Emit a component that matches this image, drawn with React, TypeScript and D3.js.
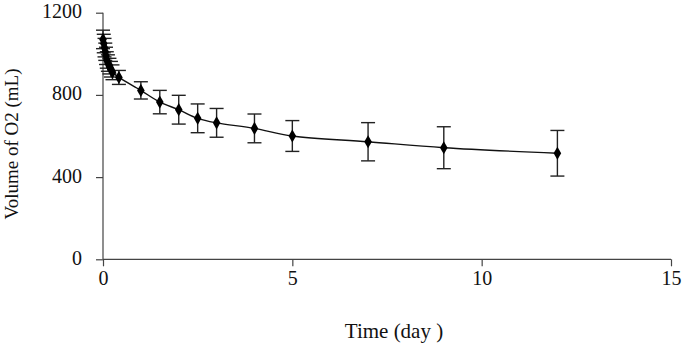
import React, { useRef, useEffect } from 'react';
import * as d3 from 'd3';

// sampling times (day) and measured O2 volume (mL) with std. deviation
const days = [0, 0.02, 0.04, 0.06, 0.08, 0.1, 0.13, 0.17, 0.21, 0.25, 0.42, 1, 1.5, 2, 2.5, 3, 4, 5, 7, 9, 12];
const volumes = [1070, 1050, 1030, 1010, 990, 970, 955, 940, 925, 910, 885, 822, 765, 728, 686, 664, 637, 600, 572, 543, 516];
const errors = [45, 45, 45, 42, 42, 40, 40, 38, 38, 36, 34, 42, 57, 70, 70, 70, 70, 75, 93, 102, 111];

const xTicks = [0, 5, 10, 15];
const yTicks = [0, 400, 800, 1200];

const App = () => {
    const svgRef = useRef<SVGSVGElement>(null);

    useEffect(() => {
        const svg = d3.select(svgRef.current);
        svg.selectAll('*').remove();

        const left = 103, right = 671, top = 12.7, bottom = 259.3;
        const x = d3.scaleLinear().domain([0, 15]).range([left, right]);
        const y = d3.scaleLinear().domain([0, 1200]).range([bottom, top]);
        const font = '"Liberation Serif", "Times New Roman", serif';
        const axisColor = '#444';

        const data = days.map((d, i) => ({ t: d, v: volumes[i], e: errors[i] }));

        // axes
        const xAxis = svg.append('g').attr('transform', `translate(0,${bottom})`)
            .call(d3.axisBottom(x).tickValues(xTicks).tickSize(7).tickPadding(5).tickFormat(d3.format('d')));
        const yAxis = svg.append('g').attr('transform', `translate(${left},0)`)
            .call(d3.axisLeft(y).tickValues(yTicks).tickSize(7).tickPadding(14).tickFormat(d3.format('d')));

        [xAxis, yAxis].forEach(g => {
            g.attr('font-family', font).attr('font-size', 20);
            g.select('.domain').attr('stroke', axisColor).attr('stroke-width', 1.2);
            g.selectAll('.tick line').attr('stroke', axisColor).attr('stroke-width', 1.2);
            g.selectAll('.tick text').attr('fill', '#111').attr('font-family', font).attr('font-size', 20);
        });
        // d3 draws outer ticks on the domain path; drop them to keep a plain line
        xAxis.select('.domain').attr('d', `M${left},0H${right}`);
        yAxis.select('.domain').attr('d', `M0,${bottom}V${top}`);
        yAxis.selectAll('.tick text').attr('dy', '0.25em');

        // error bars
        const eb = svg.append('g').attr('stroke', '#222').attr('stroke-width', 1.4);
        data.forEach(d => {
            const cx = x(d.t);
            eb.append('line').attr('x1', cx).attr('x2', cx).attr('y1', y(d.v - d.e)).attr('y2', y(d.v + d.e));
            eb.append('line').attr('x1', cx - 7).attr('x2', cx + 7).attr('y1', y(d.v - d.e)).attr('y2', y(d.v - d.e));
            eb.append('line').attr('x1', cx - 7).attr('x2', cx + 7).attr('y1', y(d.v + d.e)).attr('y2', y(d.v + d.e));
        });

        // smoothed line
        const line = d3.line<{ t: number; v: number }>()
            .x(d => x(d.t))
            .y(d => y(d.v))
            .curve(d3.curveCatmullRom.alpha(0.5));
        svg.append('path').datum(data).attr('d', line)
            .attr('fill', 'none').attr('stroke', '#111').attr('stroke-width', 1.4);

        // diamond markers
        svg.append('g').selectAll('path').data(data).enter().append('path')
            .attr('d', d3.symbol().type(d3.symbolDiamond).size(50))
            .attr('transform', d => `translate(${x(d.t)},${y(d.v)})`)
            .attr('fill', '#000');

        // axis titles
        svg.append('text')
            .attr('x', 394).attr('y', 338)
            .attr('text-anchor', 'middle').attr('font-family', font).attr('font-size', 21).attr('fill', '#111')
            .text('Time (day )');
        svg.append('text')
            .attr('transform', `translate(18,${(top + bottom) / 2 + 8}) rotate(-90)`)
            .attr('text-anchor', 'middle').attr('font-family', font).attr('font-size', 19).attr('fill', '#111')
            .text('Volume of O2 (mL)');
    }, []);

    return (
        <svg ref={svgRef} width={688} height={344}
            style={{ position: 'absolute', left: 0, top: 0, background: '#fff' }} />
    );
};

export default App;
